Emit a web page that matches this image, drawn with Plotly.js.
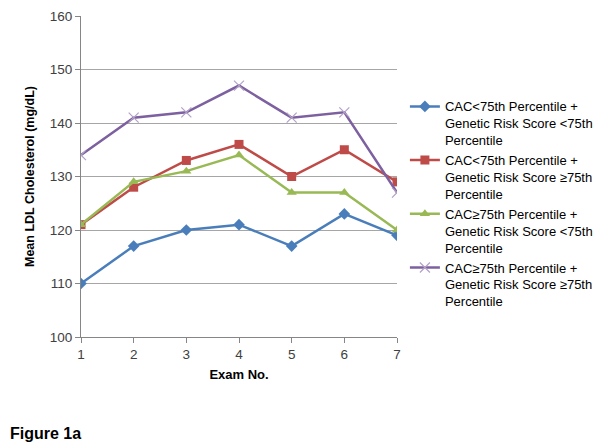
<!DOCTYPE html>
<html><head><meta charset="utf-8">
<script src="https://cdn.plot.ly/plotly-3.0.1.min.js"></script>
<style>html,body{margin:0;padding:0;background:#fff;overflow:hidden}#chart{width:630px;height:448px}</style>
</head><body><div id="chart"></div>
<script>
const exams = [1, 2, 3, 4, 5, 6, 7];
const seriesNames = [
  "CAC&lt;75th Percentile +<br>Genetic Risk Score &lt;75th<br>Percentile",
  "CAC&lt;75th Percentile +<br>Genetic Risk Score ≥75th<br>Percentile",
  "CAC≥75th Percentile +<br>Genetic Risk Score &lt;75th<br>Percentile",
  "CAC≥75th Percentile +<br>Genetic Risk Score ≥75th<br>Percentile"
];
const lowCacLowGrs = [110, 117, 120, 121, 117, 123, 119];
const lowCacHighGrs = [121, 128, 133, 136, 130, 135, 129];
const highCacLowGrs = [121, 129, 131, 134, 127, 127, 120];
const highCacHighGrs = [134, 141, 142, 147, 141, 142, 127];
const yTicks = [100, 110, 120, 130, 140, 150, 160];

const colors = ["#4A7EBB", "#BE4B48", "#98B954", "#7D60A0"];
const symbols = ["diamond", "square", "triangle-up", "x-thin"];
const sizes = [9, 9, 9, 10];
const vals = [lowCacLowGrs, lowCacHighGrs, highCacLowGrs, highCacHighGrs];

const traces = vals.map((v, i) => ({
  x: exams, y: v, name: seriesNames[i], type: "scatter", mode: "lines+markers",
  line: {color: colors[i], width: 2.5},
  marker: {symbol: symbols[i], size: sizes[i], color: i === 3 ? "#B3A2C7" : colors[i],
           line: {color: i === 3 ? "#B3A2C7" : colors[i], width: i === 3 ? 1.2 : 0}}
}));

const layout = {
  width: 630, height: 448,
  margin: {l: 81, r: 233, t: 16, b: 111},
  paper_bgcolor: "#fff", plot_bgcolor: "#fff",
  font: {family: "Liberation Sans, Arial, sans-serif", color: "#404040", size: 13},
  xaxis: {
    range: [1, 7], tickvals: exams, ticks: "outside", ticklen: 5, tickcolor: "#868686",
    showgrid: false, zeroline: false, showline: true, linecolor: "#868686", linewidth: 1,
    tickfont: {size: 13.5, color: "#404040"},
    title: {text: "<b>Exam No.</b>", font: {size: 13, color: "#000"}, standoff: 8}
  },
  yaxis: {
    range: [100, 160], tickvals: yTicks, ticks: "outside", ticklen: 5, tickcolor: "#868686",
    showgrid: true, gridcolor: "#A6A6A6", gridwidth: 1, zeroline: false,
    showline: true, linecolor: "#868686", linewidth: 1,
    tickfont: {size: 13.5, color: "#404040"},
    title: {text: "<b>Mean LDL Cholesterol (mg/dL)</b>", font: {size: 12.5, color: "#000"}, standoff: 12}
  },
  legend: {
    x: 1.025, xanchor: "left", y: 0.765, yanchor: "top", valign: "top",
    font: {size: 13, color: "#000"}, itemwidth: 30,
    bgcolor: "rgba(0,0,0,0)"
  },
  showlegend: true,
  annotations: [{
    text: "<b>Figure 1a</b>", xref: "paper", yref: "paper", x: -73/316, y: -(433-337)/321,
    xanchor: "left", yanchor: "middle", showarrow: false,
    font: {size: 16, color: "#000"}
  }]
};
Plotly.newPlot("chart", traces, layout, {displayModeBar: false, staticPlot: true});
</script></body></html>
